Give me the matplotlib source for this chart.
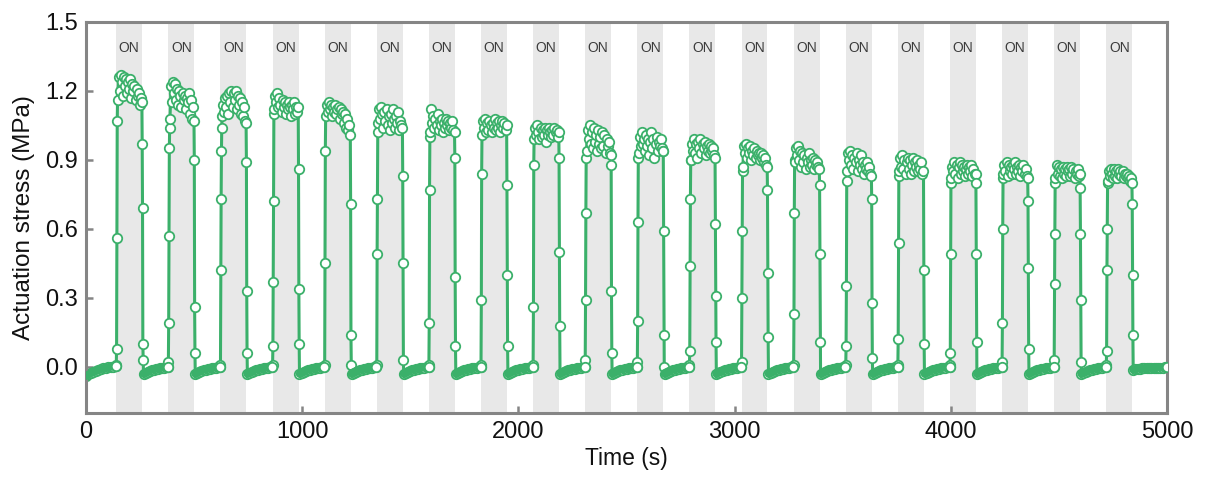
import numpy as np
import matplotlib
matplotlib.use("Agg")
import matplotlib.pyplot as plt

plt.rcParams['font.family'] = ['Liberation Sans', 'DejaVu Sans']

# ---------------- data ----------------
on_start = [140, 381, 622, 863, 1104, 1345, 1586, 1827, 2068, 2309,
            2550, 2791, 3032, 3273, 3514, 3755, 3996, 4237, 4478, 4719]
on_dur = 120

rise_vals = [
    [0.01, 0.08, 0.56, 1.07],
    [0.02, 0.19, 0.57, 0.95, 1.04],
    [0.01, 0.42, 0.73, 0.94, 1.04],
    [0.01, 0.09, 0.37, 0.72, 1.10],
    [0.01, 0.45, 0.94],
    [0.01, 0.49, 0.73, 1.02],
    [0.01, 0.19, 0.77, 1.00],
    [0.01, 0.29, 0.84],
    [0.01, 0.26, 0.88],
    [0.03, 0.29, 0.67, 0.91],
    [0.02, 0.20, 0.63, 0.91],
    [0.01, 0.07, 0.44, 0.73, 0.90],
    [0.02, 0.30, 0.59, 0.85],
    [0.01, 0.23, 0.67, 0.90],
    [0.01, 0.09, 0.35, 0.81],
    [0.01, 0.12, 0.54, 0.83],
    [0.01, 0.06, 0.49, 0.80],
    [0.02, 0.19, 0.60, 0.82],
    [0.03, 0.36, 0.58, 0.80],
    [0.01, 0.07, 0.42, 0.60, 0.80],
]

plateau_vals = [
    [1.16, 1.26, 1.20, 1.27, 1.24, 1.18, 1.26, 1.22, 1.25, 1.19, 1.24, 1.21, 1.25, 1.17, 1.23, 1.20, 1.22, 1.16, 1.21, 1.18, 1.19, 1.14, 1.17, 1.15],
    [1.08, 1.22, 1.15, 1.24, 1.19, 1.23, 1.16, 1.21, 1.14, 1.20, 1.18, 1.13, 1.19, 1.16, 1.18, 1.12, 1.17, 1.15, 1.19, 1.10, 1.16, 1.08, 1.13, 1.07],
    [1.09, 1.14, 1.11, 1.17, 1.13, 1.18, 1.10, 1.19, 1.15, 1.20, 1.13, 1.19, 1.16, 1.20, 1.12, 1.18, 1.14, 1.17, 1.10, 1.15, 1.09, 1.13, 1.07, 1.06],
    [1.12, 1.18, 1.15, 1.19, 1.13, 1.17, 1.14, 1.11, 1.16, 1.13, 1.15, 1.10, 1.14, 1.12, 1.15, 1.13, 1.09, 1.14, 1.12, 1.15, 1.10, 1.13, 1.11, 1.13],
    [1.09, 1.14, 1.11, 1.15, 1.12, 1.14, 1.09, 1.13, 1.11, 1.14, 1.10, 1.12, 1.13, 1.08, 1.12, 1.10, 1.11, 1.06, 1.10, 1.04, 1.08, 1.03, 1.05, 1.01],
    [1.06, 1.12, 1.08, 1.13, 1.10, 1.04, 1.11, 1.07, 1.12, 1.05, 1.09, 1.03, 1.10, 1.06, 1.12, 1.08, 1.04, 1.09, 1.06, 1.11, 1.03, 1.07, 1.05, 1.04],
    [1.02, 1.12, 1.06, 1.09, 1.04, 1.08, 1.05, 1.10, 1.03, 1.07, 1.05, 1.08, 1.02, 1.06, 1.04, 1.08, 1.05, 1.07, 1.03, 1.06, 1.04, 1.07, 1.03, 1.02],
    [1.01, 1.07, 1.04, 1.08, 1.02, 1.06, 1.03, 1.07, 1.05, 1.02, 1.06, 1.04, 1.08, 1.03, 1.06, 1.04, 1.07, 1.02, 1.05, 1.07, 1.04, 1.06, 1.03, 1.05],
    [0.99, 1.04, 1.01, 1.05, 1.02, 0.99, 1.04, 1.00, 1.03, 1.01, 1.04, 0.98, 1.03, 1.01, 1.04, 1.02, 1.00, 1.03, 1.01, 1.04, 1.02, 1.03, 1.00, 1.02],
    [0.94, 1.03, 0.99, 1.05, 0.97, 1.02, 0.95, 1.04, 0.98, 1.01, 0.94, 1.03, 0.97, 1.00, 0.95, 1.02, 0.96, 1.01, 0.93, 0.99, 0.96, 0.98, 0.93, 0.92],
    [0.93, 1.00, 0.96, 1.02, 0.97, 0.99, 0.94, 1.01, 0.96, 0.99, 0.92, 0.98, 1.02, 0.95, 0.99, 0.91, 0.97, 1.00, 0.94, 0.98, 0.96, 0.99, 0.95, 0.94],
    [0.90, 0.97, 0.94, 0.99, 0.93, 0.97, 0.91, 0.98, 0.95, 0.99, 0.93, 0.97, 0.95, 0.98, 0.92, 0.96, 0.94, 0.97, 0.93, 0.96, 0.94, 0.95, 0.92, 0.91],
    [0.87, 0.96, 0.93, 0.97, 0.91, 0.95, 0.93, 0.96, 0.90, 0.94, 0.92, 0.95, 0.91, 0.94, 0.92, 0.93, 0.90, 0.93, 0.91, 0.92, 0.89, 0.91, 0.88, 0.87],
    [0.89, 0.95, 0.92, 0.96, 0.90, 0.94, 0.87, 0.93, 0.89, 0.92, 0.86, 0.91, 0.89, 0.93, 0.87, 0.90, 0.88, 0.91, 0.86, 0.90, 0.88, 0.89, 0.87, 0.86],
    [0.85, 0.93, 0.90, 0.94, 0.88, 0.92, 0.86, 0.91, 0.89, 0.93, 0.85, 0.90, 0.88, 0.92, 0.86, 0.89, 0.84, 0.88, 0.86, 0.89, 0.85, 0.87, 0.84, 0.83],
    [0.85, 0.91, 0.87, 0.92, 0.86, 0.90, 0.84, 0.89, 0.91, 0.86, 0.90, 0.84, 0.88, 0.91, 0.85, 0.89, 0.87, 0.90, 0.85, 0.88, 0.86, 0.89, 0.84, 0.85],
    [0.82, 0.87, 0.85, 0.89, 0.84, 0.88, 0.82, 0.87, 0.89, 0.84, 0.88, 0.85, 0.87, 0.83, 0.86, 0.88, 0.84, 0.87, 0.85, 0.88, 0.83, 0.86, 0.84, 0.84],
    [0.84, 0.88, 0.85, 0.89, 0.83, 0.88, 0.85, 0.87, 0.84, 0.88, 0.86, 0.89, 0.84, 0.87, 0.85, 0.88, 0.83, 0.87, 0.85, 0.88, 0.84, 0.86, 0.83, 0.82],
    [0.82, 0.88, 0.84, 0.87, 0.83, 0.86, 0.82, 0.87, 0.84, 0.86, 0.83, 0.87, 0.85, 0.86, 0.83, 0.87, 0.84, 0.86, 0.82, 0.85, 0.84, 0.86, 0.83, 0.84],
    [0.81, 0.85, 0.83, 0.86, 0.84, 0.82, 0.86, 0.83, 0.85, 0.82, 0.86, 0.84, 0.85, 0.83, 0.85, 0.82, 0.84, 0.83, 0.84, 0.82, 0.83, 0.81, 0.82, 0.80],
]

fall_vals = [
    [0.97, 0.69, 0.10, 0.03],
    [0.90, 0.26, 0.06],
    [0.89, 0.33, 0.06],
    [0.86, 0.34, 0.10],
    [0.71, 0.14, 0.01],
    [0.83, 0.45, 0.03],
    [0.91, 0.39, 0.09],
    [0.79, 0.40, 0.09],
    [0.91, 0.50, 0.18],
    [0.88, 0.33, 0.06],
    [0.94, 0.59, 0.14, 0.00],
    [0.62, 0.31, 0.11],
    [0.77, 0.41, 0.13],
    [0.79, 0.49, 0.11],
    [0.73, 0.28, 0.04],
    [0.42, 0.10],
    [0.80, 0.49, 0.11],
    [0.72, 0.43, 0.08],
    [0.78, 0.58, 0.29, 0.02],
    [0.71, 0.40, 0.14],
]

base_first = [-0.040, -0.032, -0.026, -0.020, -0.016, -0.012, -0.009, -0.006,
              -0.004, -0.002, 0.000, 0.002, 0.004]
base_vals = [-0.030, -0.025, -0.020, -0.016, -0.013, -0.011, -0.009, -0.007,
             -0.006, -0.004, -0.003, -0.002, 0.000]
base_last = [-0.012, -0.009, -0.008, -0.007, -0.006, -0.006, -0.005, -0.005,
             -0.004, -0.004, -0.004, -0.003, -0.003, -0.003, -0.002, -0.002]

x_ticks = [0, 1000, 2000, 3000, 4000, 5000]
y_ticks = [0.0, 0.3, 0.6, 0.9, 1.2, 1.5]
band_label = "ON"

# ---------------- build time series ----------------
green = '#3bb06a'
dt = 1.5
t_all, v_all = [], []
base_segments = []

def add_base(t0, t1, vals):
    ts = np.linspace(t0, t1, len(vals))
    t_all.extend(ts); v_all.extend(vals)
    base_segments.append((ts, np.array(vals)))

add_base(0, on_start[0] - dt, base_first)
for k, ts in enumerate(on_start):
    r = rise_vals[k]; p = plateau_vals[k]; f = fall_vals[k]
    tr = ts + dt * np.arange(len(r))
    t_off = ts + on_dur
    tp = np.linspace(tr[-1] + dt, t_off - dt, len(p))
    tf = t_off + dt * np.arange(len(f))
    t_all.extend(tr); v_all.extend(r)
    t_all.extend(tp); v_all.extend(p)
    t_all.extend(tf); v_all.extend(f)
    if k + 1 < len(on_start):
        add_base(tf[-1] + dt, on_start[k + 1] - dt, base_vals)
    else:
        add_base(tf[-1] + dt, 5000, base_last)

# ---------------- figure ----------------
fig = plt.figure(figsize=(12.06, 4.84), dpi=100)
ax = fig.add_axes([0.0713, 0.1467, 0.8964, 0.8079])

for ts in on_start:
    ax.axvspan(ts, ts + on_dur, color='#e8e8e8', lw=0, zorder=0)
    ax.text(ts + on_dur / 2, 1.386, band_label, ha='center', va='center',
            fontsize=10, color='#3c3c3c', zorder=1)

ax.plot(t_all, v_all, '-', color=green, lw=2.2, marker='o', ms=6.8,
        mfc='white', mec=green, mew=1.3, zorder=2)

# dense baseline appearance
for ts_, vs_ in base_segments:
    ax.plot(ts_[:-1], vs_[:-1], '-', color=green, lw=5.5,
            solid_capstyle='round', zorder=3)
    ax.plot(ts_[-1:], vs_[-1:], 'o', ms=6.8, mfc='white', mec=green,
            mew=1.3, zorder=4)

ax.set_xlim(0, 5000)
ax.set_ylim(-0.2, 1.5)
ax.set_xticks(x_ticks)
ax.set_yticks(y_ticks)
ax.set_yticklabels([f"{v:.1f}" for v in y_ticks])

spine_c = '#858585'
for s in ax.spines.values():
    s.set_color(spine_c)
    s.set_linewidth(2.2)
ax.tick_params(direction='in', length=5, width=1.8, color=spine_c,
               labelsize=17, labelcolor='#111111', pad=6)

ax.set_xlabel('Time (s)', fontsize=16.5, color='#111111', labelpad=3)
ax.set_ylabel('Actuation stress (MPa)', fontsize=17.5, color='#111111', labelpad=7)

fig.savefig('out.png', dpi=100)
